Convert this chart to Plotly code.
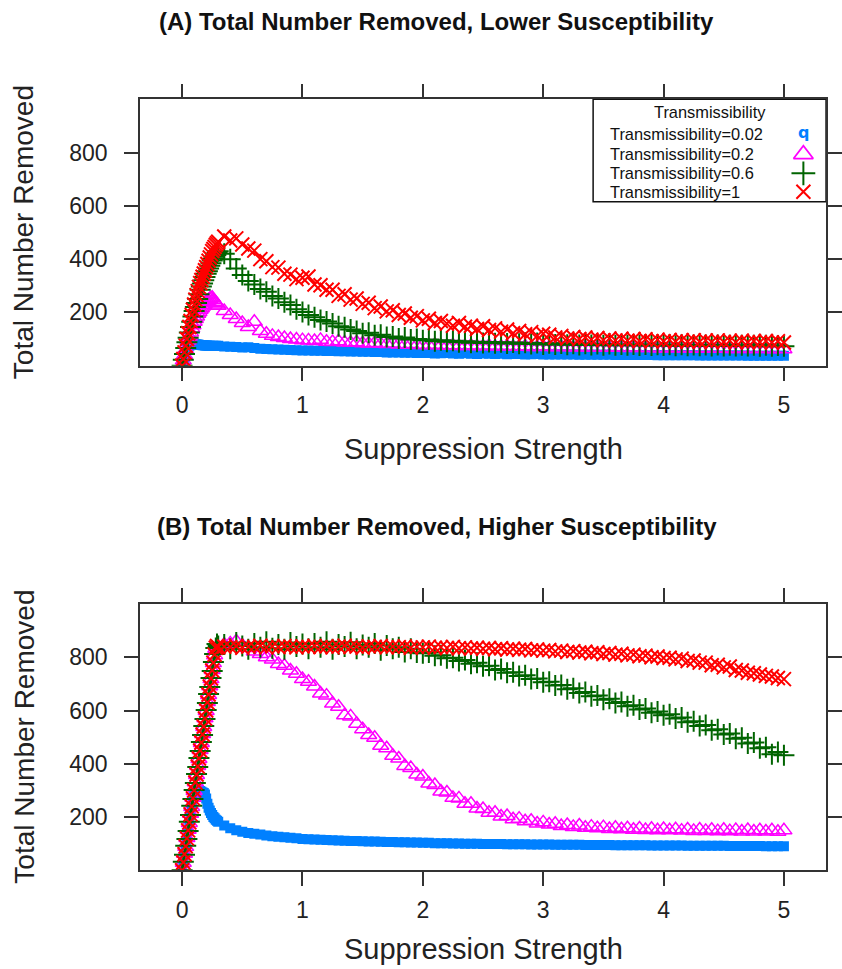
import plotly.graph_objects as go

W, H = 842, 969

# ---------------- data ----------------
# finer sampling on the initial ramp (0 - 0.30), then every 0.05 up to 5
suppression = [round(0.01 * i, 2) for i in range(31)] + [round(0.3 + 0.05 * i, 2) for i in range(1, 95)]
series_names = ["Transmissibility=0.02", "Transmissibility=0.2",
                "Transmissibility=0.6", "Transmissibility=1"]

# Panel A: lower susceptibility
a_t002 = [0, 15, 30, 45, 60, 70, 75, 78, 80, 81, 82, 81, 80, 80, 79, 78, 78, 77, 77, 76, 76, 76, 75, 75, 74, 74, 75, 74, 75, 74, 75,
          72, 71, 70, 68, 69, 66, 64, 63, 62, 61, 60, 59, 58, 57,
          57, 56, 56, 55, 55, 54, 54, 53, 53, 52, 52, 51, 51, 50, 50, 50, 49, 49, 48, 48,
          48, 46, 47, 48, 46, 45, 47, 45, 44, 46, 45, 44, 45, 43, 44, 44, 42, 43, 44, 42,
          42, 42, 42, 42, 42, 41, 41, 41, 41, 41, 41, 40, 40, 40, 40, 40, 40, 40, 39, 39,
          39, 39, 39, 39, 39, 38, 38, 38, 38, 38, 38, 38, 38, 37, 37, 37, 37, 37, 37, 37]
a_t02 = [0, 20, 40, 60, 78, 95, 110, 125, 140, 152, 165, 175, 185, 195, 202, 210, 216, 222, 228, 234, 240, 243, 246, 250, 253, 255, 248, 240, 235, 230, 225,
         205, 190, 175, 160, 145, 165, 130, 120, 112, 108, 104, 100, 98, 96,
         95, 93, 97, 90, 89, 92, 87, 86, 88, 84, 83, 85, 82, 81, 83, 80, 79, 81, 78, 78,
         77, 79, 76, 75, 77, 74, 74, 76, 73, 73, 75, 72, 72, 74, 71, 71, 73, 70, 70, 72,
         70, 69, 71, 69, 68, 70, 68, 68, 69, 67, 67, 69, 67, 66, 68, 66, 66, 67, 65, 65,
         67, 65, 65, 66, 64, 64, 66, 64, 64, 65, 63, 63, 65, 63, 63, 64, 63, 62, 64, 62]
a_t06 = [0, 22, 44, 66, 88, 105, 125, 145, 165, 185, 205, 220, 235, 250, 268, 285, 297, 309, 321, 333, 345, 355, 365, 375, 385, 395, 402, 409, 416, 423, 430,
         420, 400, 365, 340, 318, 305, 288, 278, 262, 252, 238, 228, 212, 202,
         190, 182, 172, 166, 158, 148, 144, 136, 130, 122, 124, 114, 116, 108, 110, 102, 106, 98, 100, 96,
         98, 92, 96, 90, 94, 88, 92, 86, 90, 85, 89, 84, 88, 83, 87, 82, 86, 81, 85, 80,
         84, 80, 83, 79, 82, 78, 82, 78, 81, 77, 81, 77, 80, 77, 80, 76, 80, 76, 79, 76,
         79, 75, 79, 75, 78, 75, 78, 74, 78, 74, 77, 74, 77, 74, 77, 73, 77, 73, 76, 73]
a_t1 = [0, 25, 50, 75, 100, 122, 145, 168, 190, 210, 230, 248, 265, 280, 296, 310, 322, 334, 346, 358, 370, 382, 394, 406, 418, 430, 438, 446, 454, 460, 465,
        485, 470, 478, 455, 440, 432, 400, 392, 370, 368, 345, 342, 325, 330,
        335, 305, 302, 285, 285, 262, 268, 248, 252, 232, 236, 216, 222, 204, 208, 190, 196, 180, 186, 170,
        176, 160, 168, 158, 150, 160, 146, 150, 138, 148, 134, 140, 128, 136, 122, 130, 118, 126, 112, 120,
        116, 106, 112, 102, 108, 100, 106, 98, 104, 96, 102, 95, 101, 94, 100, 93, 99, 92, 98, 92,
        97, 91, 96, 90, 96, 90, 95, 89, 95, 89, 94, 88, 94, 88, 93, 88, 93, 87, 92, 87]

# Panel B: higher susceptibility
b_t002 = [0, 30, 60, 90, 120, 150, 180, 210, 240, 270, 290, 300, 305, 300, 302, 298, 295, 292, 290, 285, 270, 250, 235, 225, 215, 208, 200, 195, 190, 186, 182,
          168, 158, 150, 145, 140, 137, 134, 131, 128, 126, 124, 122, 120, 118,
          117, 116, 115, 114, 113, 112, 111, 110, 110, 109, 108, 108, 107, 106, 106, 105, 105, 104, 104, 103,
          103, 102, 102, 102, 101, 101, 100, 100, 100, 99, 99, 99, 99, 98, 98, 98, 98, 97, 97, 97,
          97, 96, 96, 96, 96, 96, 95, 95, 95, 95, 95, 94, 94, 94, 94, 94, 94, 93, 93, 93,
          93, 93, 93, 92, 92, 92, 92, 92, 92, 92, 91, 91, 91, 91, 91, 91, 90, 90, 90, 90]
b_t02 = [0, 28, 62, 88, 121, 152, 178, 212, 238, 272, 298, 331, 358, 392, 418, 452, 478, 512, 538, 571, 598, 632, 658, 691, 718, 752, 778, 808, 832, 840, 838,
         848, 852, 860, 845, 835, 822, 812, 800, 792, 775, 768, 750, 738, 718,
         708, 690, 664, 656, 626, 614, 582, 578, 550, 530, 508, 498, 468, 458, 430, 420, 392, 384, 360, 352,
         326, 320, 296, 292, 272, 270, 250, 250, 232, 230, 216, 216, 202, 204, 192, 194, 184, 186, 176, 180,
         172, 175, 166, 170, 163, 168, 160, 164, 158, 162, 155, 160, 154, 158, 152, 157, 151, 156, 150, 155,
         150, 154, 149, 153, 148, 153, 148, 152, 147, 152, 147, 151, 146, 151, 146, 150, 146, 150, 145, 150]
b_t06 = [0, 32, 58, 92, 118, 148, 182, 208, 242, 268, 302, 328, 362, 388, 422, 448, 482, 508, 542, 568, 602, 628, 662, 688, 722, 748, 782, 812, 835, 850, 842,
         848, 832, 855, 842, 830, 852, 838, 858, 834, 848, 830, 855, 840, 850,
         832, 852, 838, 858, 830, 848, 840, 856, 832, 846, 838, 852, 826, 844, 832, 838, 820, 832, 818, 815,
         818, 806, 808, 796, 798, 786, 790, 776, 779, 766, 768, 752, 756, 742, 744, 730, 732, 718, 720, 706,
         708, 694, 696, 680, 684, 666, 670, 654, 656, 640, 644, 628, 632, 616, 620, 604, 608, 592, 596, 582,
         586, 570, 574, 556, 560, 542, 546, 526, 530, 510, 514, 494, 498, 476, 480, 458, 462, 436, 444, 432]
b_t1 = [0, 30, 60, 90, 120, 150, 180, 210, 240, 270, 300, 330, 360, 390, 420, 450, 480, 510, 540, 570, 600, 630, 660, 690, 720, 750, 780, 810, 836, 842, 838,
        840, 838, 842, 836, 840, 839, 843, 837, 841, 838, 842, 840, 837, 841,
        839, 842, 838, 841, 837, 840, 843, 838, 840, 836, 841, 839, 842, 837, 840, 838, 841, 836, 839, 837,
        840, 836, 838, 835, 839, 834, 837, 833, 836, 832, 835, 830, 834, 829, 832, 828, 831, 826, 829, 825,
        827, 822, 825, 820, 823, 818, 821, 815, 819, 812, 816, 810, 813, 807, 810, 804, 806, 800, 803, 797,
        798, 792, 795, 786, 788, 780, 780, 770, 772, 762, 765, 752, 750, 742, 740, 735, 730, 728, 722, 718]

x_ticks = [0, 1, 2, 3, 4, 5]
y_ticks = [200, 400, 600, 800]
titles = ["(A) Total Number Removed, Lower Susceptibility",
          "(B) Total Number Removed, Higher Susceptibility"]
x_title = "Suppression Strength"
y_title = "Total Number Removed"
legend_title = "Transmissibility"

# ---------------- styles ----------------
BLUE, PINK, GREEN, RED = "#0080FF", "#FF00FF", "#006400", "#FF0000"
AX = "#333333"
FONT = "Liberation Sans"

markers = [
    dict(symbol="square", size=10, color=BLUE, line=dict(width=0)),
    dict(symbol="triangle-up-open", size=14, color=PINK, line=dict(color=PINK, width=1.5)),
    dict(symbol="cross-thin-open", size=15, color=GREEN, line=dict(color=GREEN, width=2)),
    dict(symbol="x-thin-open", size=14, color=RED, line=dict(color=RED, width=2)),
]

fig = go.Figure()
panels = [("x", "y", [a_t002, a_t02, a_t06, a_t1]),
          ("x2", "y2", [b_t002, b_t02, b_t06, b_t1])]
for xa, ya, ser in panels:
    for name, vals, mk in zip(series_names, ser, markers):
        fig.add_trace(go.Scatter(x=suppression, y=vals, mode="markers", name=name,
                                 marker=mk, xaxis=xa, yaxis=ya, showlegend=False))

def px2fx(px):
    return px / W

def py2fy(py):
    return 1 - py / H

# plot boxes (pixel coordinates)
boxA = (142, 838, 99.3, 365.7)
boxB = (142, 838, 604, 870.3)

def xaxis_style(dom, anchor):
    return dict(domain=[px2fx(dom[0]), px2fx(dom[1])], range=[-0.35, 5.35], anchor=anchor,
                showline=True, linecolor=AX, linewidth=1.5, mirror="ticks",
                ticks="outside", ticklen=14, tickwidth=1.5, tickcolor=AX,
                tickvals=x_ticks, showgrid=False, zeroline=False,
                tickfont=dict(family=FONT, size=23, color="#222"), ticklabelstandoff=4)

def yaxis_style(dom, anchor):
    return dict(domain=[py2fy(dom[3]), py2fy(dom[2])], range=[0, 1000], anchor=anchor,
                showline=True, linecolor=AX, linewidth=1.5, mirror="ticks",
                ticks="outside", ticklen=14, tickwidth=1.5, tickcolor=AX,
                tickvals=y_ticks, showgrid=False, zeroline=False,
                tickfont=dict(family=FONT, size=23, color="#222"), ticklabelstandoff=12)

fig.update_layout(
    width=W, height=H, autosize=False,
    margin=dict(l=0, r=0, t=0, b=0),
    paper_bgcolor="white", plot_bgcolor="rgba(0,0,0,0)",
    xaxis=xaxis_style(boxA, "y"), yaxis=yaxis_style(boxA, "x"),
    xaxis2=xaxis_style(boxB, "y2"), yaxis2=yaxis_style(boxB, "x2"),
    xaxis3=dict(domain=[0, 1], range=[0, W], visible=False, anchor="y3"),
    yaxis3=dict(domain=[0, 1], range=[H, 0], visible=False, anchor="x3"),
)

annotations = []
# titles
for t, ty in zip(titles, [21, 526]):
    annotations.append(dict(text="<b>%s</b>" % t, x=px2fx(443), y=py2fy(ty), xref="paper", yref="paper",
                            showarrow=False, xanchor="center", yanchor="middle",
                            font=dict(family=FONT, size=24, color="#111")))
# axis titles
for ty in [449, 949]:
    annotations.append(dict(text=x_title, x=px2fx(490), y=py2fy(ty), xref="paper", yref="paper",
                            showarrow=False, xanchor="center", yanchor="middle",
                            font=dict(family=FONT, size=29, color="#222")))
for ty in [232.5, 737]:
    annotations.append(dict(text=y_title, x=px2fx(24), y=py2fy(ty), xref="paper", yref="paper",
                            showarrow=False, xanchor="center", yanchor="middle", textangle=-90,
                            font=dict(family=FONT, size=28, color="#222")))

# legend box
leg = (601.7, 838, 99.3, 201.7)
fig.add_shape(type="rect", xref="paper", yref="paper",
              x0=px2fx(leg[0]), x1=px2fx(leg[1]), y0=py2fy(leg[3]), y1=py2fy(leg[2]),
              line=dict(color="#111", width=1.5), fillcolor="white", layer="below")
annotations.append(dict(text=legend_title, x=px2fx(720), y=py2fy(112), xref="paper", yref="paper",
                        showarrow=False, xanchor="center", yanchor="middle",
                        font=dict(family=FONT, size=16.4, color="#111")))
leg_rows = [134.3, 154.3, 173.3, 191.7]
for name, ry in zip(series_names, leg_rows):
    annotations.append(dict(text=name, x=px2fx(617), y=py2fy(ry), xref="paper", yref="paper",
                            showarrow=False, xanchor="left", yanchor="middle",
                            font=dict(family=FONT, size=16.4, color="#111")))
# legend keys
annotations.append(dict(text="<b>q</b>", x=px2fx(815), y=py2fy(leg_rows[0] - 2), xref="paper", yref="paper",
                        showarrow=False, xanchor="center", yanchor="middle",
                        font=dict(family="DejaVu Sans", size=16, color=BLUE)))
key_markers = [
    dict(symbol="triangle-up-open", size=17, color=PINK, line=dict(color=PINK, width=1.8)),
    dict(symbol="cross-thin-open", size=17, color=GREEN, line=dict(color=GREEN, width=2)),
    dict(symbol="x-thin-open", size=14, color=RED, line=dict(color=RED, width=2)),
]
for mk, ry in zip(key_markers, leg_rows[1:]):
    fig.add_trace(go.Scatter(x=[815], y=[ry], mode="markers", marker=mk, xaxis="x3", yaxis="y3",
                             showlegend=False, cliponaxis=False, hoverinfo="skip"))

fig.update_layout(annotations=annotations)
fig.write_html("out.html", config={"displayModeBar": False},
               post_script="document.body.style.margin='0';")
